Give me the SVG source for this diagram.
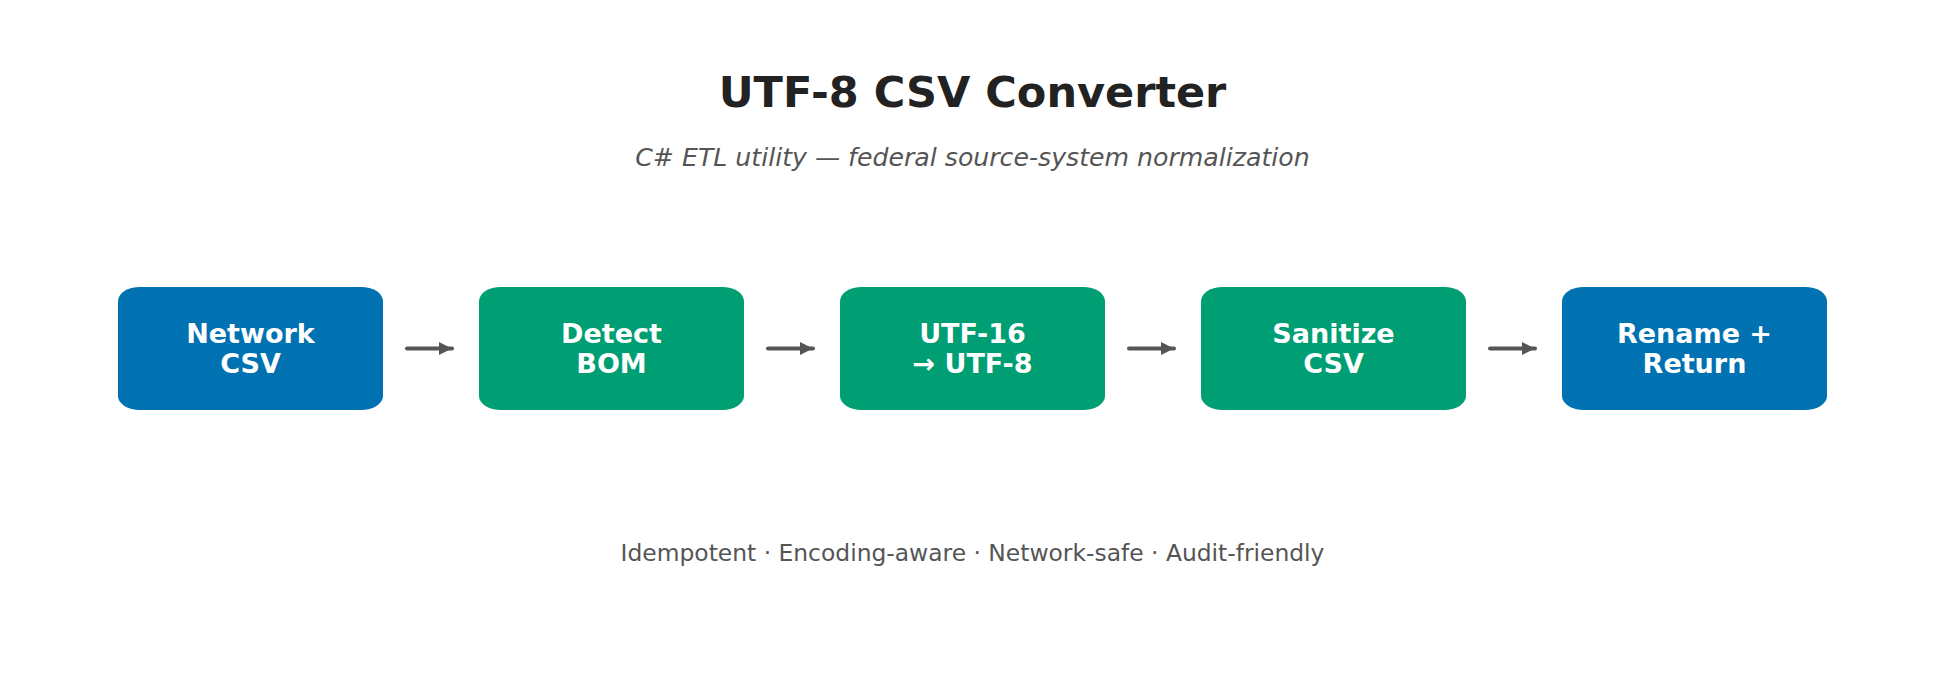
<svg xmlns="http://www.w3.org/2000/svg" width="1945" height="685" viewBox="0 0 1945 685">
<style>
.title{font-family:"DejaVu Sans",sans-serif;font-weight:bold;font-size:43px;fill:#222222;text-anchor:middle}
.sub{font-family:"DejaVu Sans",sans-serif;font-style:italic;font-size:25.2px;fill:#555555;text-anchor:middle}
.foot{font-family:"DejaVu Sans",sans-serif;font-size:23.4px;fill:#555555;text-anchor:middle}
.lbl{font-family:"DejaVu Sans",sans-serif;font-weight:bold;font-size:27px;fill:#ffffff;text-anchor:middle}
.blue{fill:#0072B2}
.green{fill:#009E73}
.conn{stroke:#555555;stroke-width:4;stroke-linecap:round;fill:none;marker-end:url(#ah)}
</style>
<defs>
<marker id="ah" markerUnits="userSpaceOnUse" markerWidth="16" markerHeight="16" refX="13" refY="8" orient="auto">
<path d="M0,1.5 L13,8 L0,14.5 Z" fill="#555555"/>
</marker>
</defs>
<rect width="1945" height="685" fill="#ffffff"/>
<text class="title" x="972.5" y="107">UTF-8 CSV Converter</text>
<text class="sub" x="972.5" y="166">C# ETL utility — federal source-system normalization</text>
<g id="n1"><rect class="blue" x="118" y="287" width="265" height="123" rx="22" ry="14"/><text class="lbl" x="250.5" y="343">Network</text><text class="lbl" x="250.5" y="373">CSV</text></g>
<g id="n2"><rect class="green" x="479" y="287" width="265" height="123" rx="22" ry="14"/><text class="lbl" x="611.5" y="343">Detect</text><text class="lbl" x="611.5" y="373">BOM</text></g>
<g id="n3"><rect class="green" x="840" y="287" width="265" height="123" rx="22" ry="14"/><text class="lbl" x="972.5" y="343">UTF-16</text><text class="lbl" x="972.5" y="373">→ UTF-8</text></g>
<g id="n4"><rect class="green" x="1201" y="287" width="265" height="123" rx="22" ry="14"/><text class="lbl" x="1333.5" y="343">Sanitize</text><text class="lbl" x="1333.5" y="373">CSV</text></g>
<g id="n5"><rect class="blue" x="1562" y="287" width="265" height="123" rx="22" ry="14"/><text class="lbl" x="1694.5" y="343">Rename +</text><text class="lbl" x="1694.5" y="373">Return</text></g>
<g id="connectors">
<line class="conn" x1="407" y1="348.5" x2="452" y2="348.5"/>
<line class="conn" x1="768" y1="348.5" x2="813" y2="348.5"/>
<line class="conn" x1="1129" y1="348.5" x2="1174" y2="348.5"/>
<line class="conn" x1="1490" y1="348.5" x2="1535" y2="348.5"/>
</g>
<text class="foot" x="972.5" y="561">Idempotent · Encoding-aware · Network-safe · Audit-friendly</text>
</svg>
